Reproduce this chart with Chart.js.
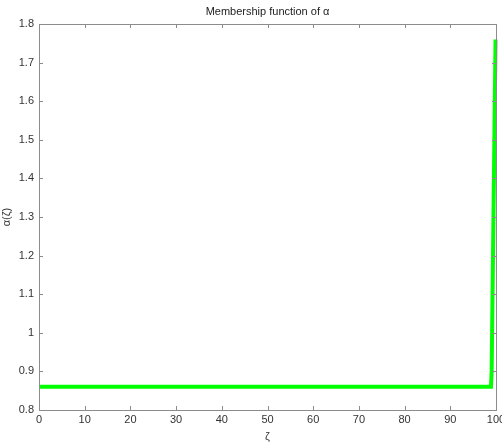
<html>
<head>
	<script src="https://cdn.jsdelivr.net/npm/chart.js@4/dist/chart.umd.min.js"></script>
</head>
<body style="margin:0;background:#fff">
	<div style="width:502px;height:444px">
		<canvas id="myChart"></canvas>
	</div>
</body>
<script>

// values
const zeta = [0, 98.9, 99.05, 99.9];
const alpha = [0.86, 0.86, 0.9, 1.76];
const xTicks = [0, 10, 20, 30, 40, 50, 60, 70, 80, 90, 100];
const yTicks = [0.8, 0.9, 1, 1.1, 1.2, 1.3, 1.4, 1.5, 1.6, 1.7, 1.8];
const titleText = 'Membership function of α';

const axisGrey = '#8c8c8c';
const font = { family: 'Liberation Sans, Arial, sans-serif', size: 11, weight: 'normal' };

// matlab-like box with inward ticks on all four sides, title centred on the axes
const boxTicks = {
  id: 'boxTicks',
  afterDatasetsDraw(chart) {
    const { ctx, chartArea: a } = chart;
    const xs = chart.scales.x, ys = chart.scales.y;
    const len = 4;
    ctx.save();
    ctx.strokeStyle = axisGrey;
    ctx.lineWidth = 1;
    ctx.beginPath();
    xTicks.forEach(v => {
      const px = Math.round(xs.getPixelForValue(v)) + 0.5;
      ctx.moveTo(px, a.bottom); ctx.lineTo(px, a.bottom - len);
      ctx.moveTo(px, a.top); ctx.lineTo(px, a.top + len);
    });
    yTicks.forEach(v => {
      const py = Math.round(ys.getPixelForValue(v)) + 0.5;
      ctx.moveTo(a.left, py); ctx.lineTo(a.left + len, py);
      ctx.moveTo(a.right, py); ctx.lineTo(a.right - len, py);
    });
    ctx.stroke();
    ctx.strokeRect(Math.round(a.left) + 0.5, Math.round(a.top) + 0.5,
      Math.round(a.right - a.left), Math.round(a.bottom - a.top));

    ctx.fillStyle = '#222';
    ctx.font = '11px Liberation Sans, Arial, sans-serif';
    ctx.textAlign = 'center';
    ctx.textBaseline = 'middle';
    ctx.fillText(titleText, (a.left + a.right) / 2, a.top - 12);
    ctx.restore();
  }
};

const data = {
  datasets: [{
    data: zeta.map((z, i) => ({ x: z, y: alpha[i] })),
    showLine: true,
    borderColor: '#00ff00',
    borderWidth: 4,
    pointRadius: 0,
    tension: 0,
    clip: false
  }]
};

const config = {
  type: 'scatter',
  data: data,
  plugins: [boxTicks],
  options: {
    maintainAspectRatio: false,
    responsive: true,
    animation: false,
    layout: { padding: { left: 0, right: 6, top: 24, bottom: 0 } },
    plugins: {
      legend: { display: false },
      tooltip: { enabled: false },
      title: { display: false }
    },
    scales: {
      x: {
        type: 'linear',
        min: 0, max: 100,
        afterBuildTicks: s => { s.ticks = xTicks.map(v => ({ value: v })); },
        afterFit: s => { s.height = 34; s.paddingLeft = 0; s.paddingRight = 0; },
        grid: { display: false, drawTicks: false },
        border: { display: false },
        ticks: { color: '#333', font: font, padding: 3, maxRotation: 0 },
        title: { display: true, text: 'ζ', color: '#333', font: font, padding: { top: 0, bottom: 0 } }
      },
      y: {
        type: 'linear',
        min: 0.8, max: 1.8,
        afterBuildTicks: s => { s.ticks = yTicks.map(v => ({ value: v })); },
        afterFit: s => { s.width = 39; s.paddingTop = 0; s.paddingBottom = 0; },
        grid: { display: false, drawTicks: false },
        border: { display: false },
        ticks: { color: '#333', font: font, padding: 5,
          callback: v => String(Math.round(v * 10) / 10) },
        title: { display: true, text: 'α(ζ)', color: '#333', font: font, padding: { top: 0, bottom: 0 } }
      }
    }
  }
};
var ctx = document.getElementById('myChart');
var myChart = new Chart(ctx, config);

</script>
</html>
